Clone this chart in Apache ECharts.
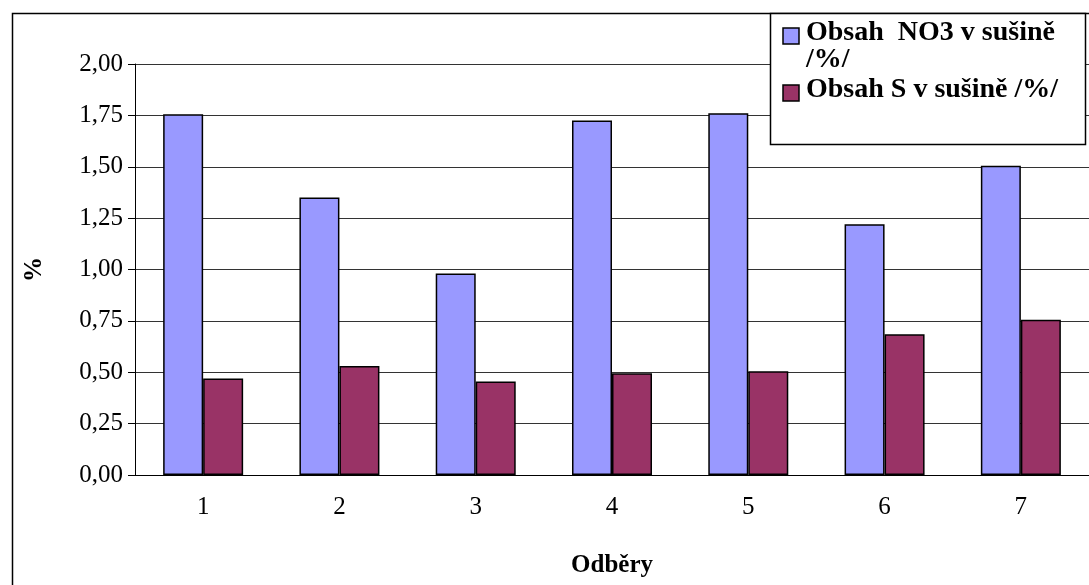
<!DOCTYPE html>
<html><head><meta charset="utf-8">
<script src="https://cdn.jsdelivr.net/npm/echarts@6/dist/echarts.min.js"></script>
<style>html,body{margin:0;background:#fff}#c{width:1089px;height:585px}</style>
</head><body><div id="c"></div>
<script>
const categories = ['1', '2', '3', '4', '5', '6', '7'];
const no3 = [1.755, 1.35, 0.98, 1.725, 1.76, 1.22, 1.505];
const sulfur = [0.47, 0.53, 0.455, 0.495, 0.505, 0.685, 0.755];
const F = 'Liberation Serif';
const chart = echarts.init(document.getElementById('c'));
chart.setOption({
    animation: false,
    textStyle: { fontFamily: F, color: '#000' },
    graphic: [
        { type: 'rect', shape: { x: 12.5, y: 13.5, width: 1090, height: 580 }, style: { fill: 'none', stroke: '#000', lineWidth: 1.5 } },
        { type: 'rect', z: 10, shape: { x: 770.5, y: 13.5, width: 315, height: 131 }, style: { fill: '#fff', stroke: '#000', lineWidth: 1.5 } },
        { type: 'rect', z: 11, shape: { x: 783, y: 28, width: 16, height: 16 }, style: { fill: '#9999ff', stroke: '#000', lineWidth: 1.5 } },
        { type: 'text', z: 11, left: 806, top: 19, style: { text: 'Obsah  NO3 v sušině\n/%/', font: 'bold 28px ' + F, lineHeight: 27, fill: '#000' } },
        { type: 'rect', z: 11, shape: { x: 783, y: 85, width: 16, height: 16 }, style: { fill: '#993366', stroke: '#000', lineWidth: 1.5 } },
        { type: 'text', z: 11, left: 806, top: 76, style: { text: 'Obsah S v sušině /%/', font: 'bold 28px ' + F, fill: '#000' } }
    ],
    grid: { left: 135, right: 0, top: 64, bottom: 110, outerBoundsMode: 'none' },
    xAxis: {
        type: 'category', data: categories,
        name: 'Odběry', nameLocation: 'middle', nameGap: 78,
        nameTextStyle: { fontFamily: F, fontSize: 25, fontWeight: 'bold' },
        axisLine: { lineStyle: { color: '#000' } },
        axisTick: { length: 7, lineStyle: { color: '#000' } },
        axisLabel: { fontFamily: F, fontSize: 25, color: '#000', margin: 20 }
    },
    yAxis: {
        type: 'value', min: 0, max: 2, interval: 0.25,
        name: '%', nameLocation: 'middle', nameGap: 88, nameRotate: 90,
        nameTextStyle: { fontFamily: F, fontSize: 25, fontWeight: 'bold' },
        axisLine: { show: true, lineStyle: { color: '#000' } },
        axisTick: { show: true, inside: false, length: 7, lineStyle: { color: '#000' } },
        splitLine: { lineStyle: { color: '#333', width: 1 } },
        axisLabel: { fontFamily: F, fontSize: 25, color: '#000', margin: 12,
            formatter: v => v.toFixed(2).replace('.', ',') }
    },
    series: [
        { type: 'bar', data: no3, barWidth: 40, barGap: '0%', itemStyle: { color: '#9999ff', borderColor: '#000', borderWidth: 1.5 } },
        { type: 'bar', data: sulfur, barWidth: 40, itemStyle: { color: '#993366', borderColor: '#000', borderWidth: 1.5 } }
    ]
});
</script></body></html>
